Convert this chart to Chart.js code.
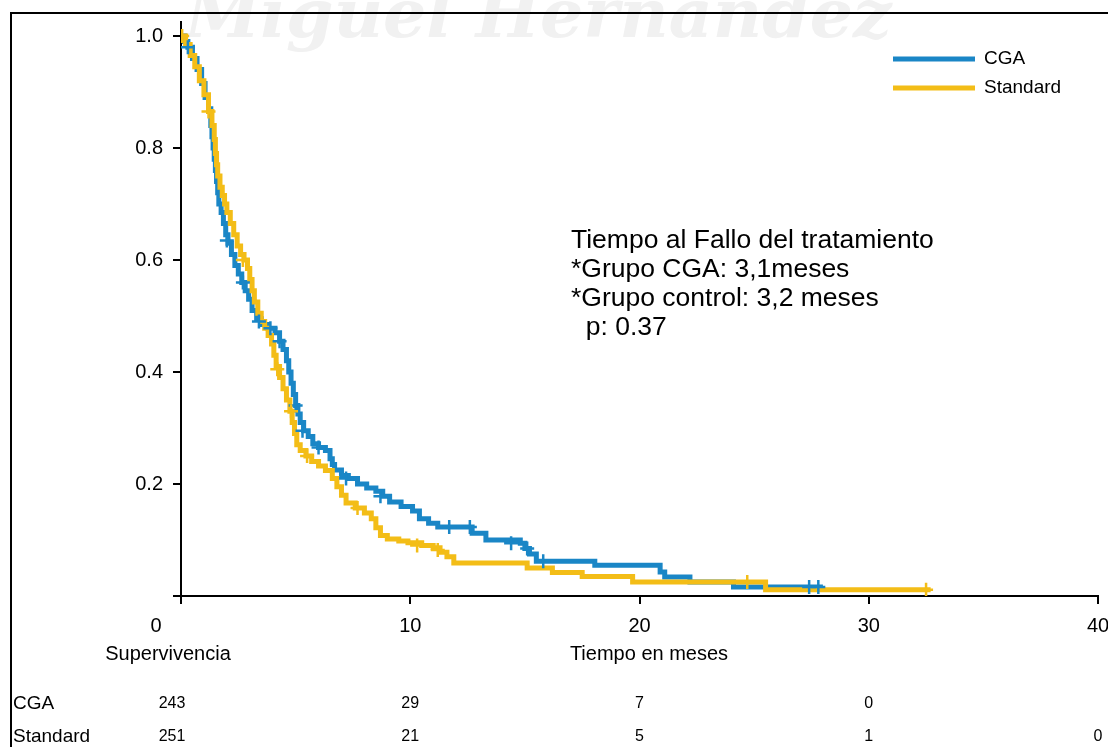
<!DOCTYPE html>
<html>
<head>
<meta charset="utf-8">
<script src="https://cdn.jsdelivr.net/npm/chart.js"></script>
<style>
  body { margin: 0; background: #fff; }
  #wrap { position: relative; width: 1108px; height: 747px; overflow: hidden; background: #fff; }
  #wm { position: absolute; left: 185px; top: -27px; font: italic bold 68px "DejaVu Serif", serif; color: #f1f1f1; white-space: nowrap; }
  #frame { position: absolute; left: 10px; top: 12px; width: 1200px; height: 800px; border-top: 2px solid #000; border-left: 2px solid #000; }
  canvas { position: absolute; left: 0; top: 0; }
</style>
</head>
<body>
<div id="wrap">
  <div id="wm">Miguel Hernández</div>
  <div id="frame"></div>
  <canvas id="km" width="1108" height="747"></canvas>
</div>
<script>
// survival curves (months, proportion)
const cgaTime = [0, 0.15, 0.3, 0.5, 0.7, 0.9, 1.05, 1.2, 1.3, 1.35, 1.4, 1.45, 1.5, 1.55, 1.6, 1.65, 1.75, 1.85, 1.95, 2.05, 2.2, 2.35, 2.5, 2.65, 2.8, 2.95, 3.1, 3.3, 3.5, 3.8, 4.1, 4.3, 4.45, 4.6, 4.7, 4.8, 4.9, 5.0, 5.1, 5.2, 5.35, 5.55, 5.75, 6.0, 6.3, 6.5, 6.6, 6.7, 7.0, 7.3, 7.7, 8.1, 8.5, 8.8, 9.1, 9.6, 10.1, 10.4, 10.8, 11.2, 12.7, 13.3, 14.8, 15.0, 15.2, 15.5, 18.05, 20.9, 21.1, 22.2, 24.1, 28.0];
const cgaSurv = [1.0, 0.99, 0.98, 0.96, 0.94, 0.915, 0.89, 0.87, 0.84, 0.82, 0.80, 0.78, 0.76, 0.74, 0.72, 0.70, 0.685, 0.665, 0.645, 0.63, 0.61, 0.59, 0.575, 0.56, 0.545, 0.53, 0.51, 0.495, 0.485, 0.478, 0.47, 0.455, 0.44, 0.42, 0.40, 0.38, 0.36, 0.34, 0.325, 0.31, 0.295, 0.285, 0.272, 0.265, 0.26, 0.245, 0.235, 0.225, 0.215, 0.21, 0.20, 0.193, 0.187, 0.178, 0.168, 0.16, 0.152, 0.138, 0.13, 0.123, 0.112, 0.10, 0.094, 0.085, 0.075, 0.062, 0.055, 0.043, 0.034, 0.025, 0.016, 0.016];

const stdTime = [0, 0.2, 0.4, 0.6, 0.8, 1.0, 1.2, 1.35, 1.45, 1.5, 1.55, 1.6, 1.7, 1.8, 1.9, 2.0, 2.15, 2.3, 2.45, 2.6, 2.75, 2.9, 3.0, 3.1, 3.2, 3.35, 3.5, 3.65, 3.8, 3.95, 4.05, 4.15, 4.3, 4.45, 4.6, 4.75, 4.85, 4.95, 5.05, 5.2, 5.45, 5.7, 6.0, 6.3, 6.6, 6.8, 7.0, 7.2, 7.6, 8.0, 8.3, 8.5, 8.7, 9.0, 9.5, 9.9, 10.5, 11.0, 11.3, 11.6, 11.9, 15.1, 16.2, 17.5, 19.7, 25.5, 32.7];
const stdSurv = [1.0, 0.985, 0.965, 0.945, 0.92, 0.895, 0.865, 0.84, 0.815, 0.79, 0.77, 0.75, 0.73, 0.715, 0.70, 0.685, 0.665, 0.645, 0.625, 0.61, 0.60, 0.585, 0.565, 0.545, 0.525, 0.505, 0.49, 0.478, 0.465, 0.45, 0.43, 0.41, 0.39, 0.37, 0.35, 0.33, 0.31, 0.29, 0.27, 0.26, 0.25, 0.24, 0.232, 0.224, 0.21, 0.195, 0.18, 0.166, 0.157, 0.148, 0.138, 0.122, 0.108, 0.102, 0.098, 0.095, 0.09, 0.086, 0.078, 0.07, 0.059, 0.05, 0.042, 0.035, 0.025, 0.011, 0.011];

// censored observations (+ marks)
const cgaCensT = [0.3, 2.0, 2.7, 3.4, 3.9, 4.3, 5.0, 5.3, 6.0, 7.2, 8.7, 11.7, 12.6, 14.4, 15.1, 15.8, 27.4, 27.8];
const cgaCensS = [0.98, 0.635, 0.56, 0.49, 0.478, 0.455, 0.34, 0.295, 0.265, 0.21, 0.178, 0.123, 0.123, 0.094, 0.085, 0.062, 0.016, 0.016];
const stdCensT = [0.05, 1.2, 2.7, 4.2, 4.8, 5.5, 7.7, 10.3, 11.2, 24.7, 32.5];
const stdCensS = [1.0, 0.865, 0.60, 0.405, 0.33, 0.25, 0.157, 0.09, 0.082, 0.025, 0.011];

// axes and number-at-risk table
const xTicks = [0, 10, 20, 30, 40];
const yTicks = [0, 0.2, 0.4, 0.6, 0.8, 1.0];
const riskCGA = [243, 29, 7, 0];
const riskStd = [251, 21, 5, 1, 0];
const noteLines = ["Tiempo al Fallo del tratamiento", "*Grupo CGA: 3,1meses", "*Grupo control: 3,2 meses", "  p: 0.37"];

const blue = "#1a86c6";
const yellow = "#f3bd17";
const font = '"Liberation Sans", Arial, sans-serif';

const toPoints = (xs, ys) => xs.map((x, i) => ({ x: x, y: ys[i] }));

const overlay = {
  id: "overlay",
  afterDraw: chart => {
    const c = chart.ctx;
    const xs = chart.scales.x;
    c.save();
    c.fillStyle = "#000";
    c.textBaseline = "middle";

    // x tick labels
    c.textAlign = "center";
    c.font = "20px " + font;
    xTicks.forEach(v => c.fillText(String(v), xs.getPixelForValue(v) + (v === 0 ? -25 : 0), 626));

    // titles under the axis
    c.font = "20px " + font;
    c.fillText("Supervivencia", 168, 654);
    c.fillText("Tiempo en meses", 649, 654);

    // number at risk
    c.font = "19px " + font;
    c.textAlign = "left";
    c.fillText("CGA", 13, 704);
    c.fillText("Standard", 13, 737);
    c.font = "16px " + font;
    c.textAlign = "center";
    riskCGA.forEach((n, i) => c.fillText(String(n), xs.getPixelForValue(xTicks[i]) + (i === 0 ? -9 : 0), 704));
    riskStd.forEach((n, i) => c.fillText(String(n), xs.getPixelForValue(xTicks[i]) + (i === 0 ? -9 : 0), 737));

    // legend
    [["CGA", blue, 59], ["Standard", yellow, 88]].forEach(([name, col, y]) => {
      c.strokeStyle = col;
      c.lineWidth = 5;
      c.beginPath();
      c.moveTo(893, y);
      c.lineTo(975, y);
      c.stroke();
      c.textAlign = "left";
      c.font = "19px " + font;
      c.fillText(name, 984, y);
    });

    // note
    c.font = "26.5px " + font;
    c.textAlign = "left";
    noteLines.forEach((t, i) => c.fillText(t, 571, 241 + i * 29));
    c.restore();
  }
};

const ctx = document.getElementById("km").getContext("2d");
new Chart(ctx, {
  type: "scatter",
  data: {
    datasets: [
      { label: "CGA cens", data: toPoints(cgaCensT, cgaCensS), pointStyle: "cross", pointRadius: 7, borderColor: blue, borderWidth: 2.5, order: 1 },
      { label: "Standard cens", data: toPoints(stdCensT, stdCensS), pointStyle: "cross", pointRadius: 7, borderColor: yellow, borderWidth: 2.5, order: 0 },
      { label: "Standard", data: toPoints(stdTime, stdSurv), showLine: true, stepped: true, borderColor: yellow, borderWidth: 5, pointRadius: 0, order: 2 },
      { label: "CGA", data: toPoints(cgaTime, cgaSurv), showLine: true, stepped: true, borderColor: blue, borderWidth: 5, pointRadius: 0, order: 3 }
    ]
  },
  options: {
    responsive: false,
    animation: false,
    devicePixelRatio: 1,
    layout: { padding: { left: 0, top: 22, right: 10, bottom: 0 } },
    plugins: { legend: { display: false }, tooltip: { enabled: false } },
    scales: {
      x: {
        type: "linear", min: 0, max: 40,
        afterFit: s => { s.height = 151; },
        afterBuildTicks: s => { s.ticks = xTicks.map(v => ({ value: v })); },
        ticks: { display: false },
        grid: { drawOnChartArea: false, drawTicks: true, tickLength: 8, color: "#000", lineWidth: 2 },
        border: { color: "#000", width: 2 }
      },
      y: {
        min: 0, max: 1.025,
        afterFit: s => { s.width = 181; },
        afterBuildTicks: s => { s.ticks = yTicks.map(v => ({ value: v })); },
        ticks: { color: "#000", padding: 10, font: { size: 20, family: font }, callback: v => (v === 0 ? "" : v.toFixed(1)) },
        grid: { drawOnChartArea: false, tickLength: 8, color: "#000", lineWidth: 2 },
        border: { color: "#000", width: 2 }
      }
    }
  },
  plugins: [overlay]
});
</script>
</body>
</html>
